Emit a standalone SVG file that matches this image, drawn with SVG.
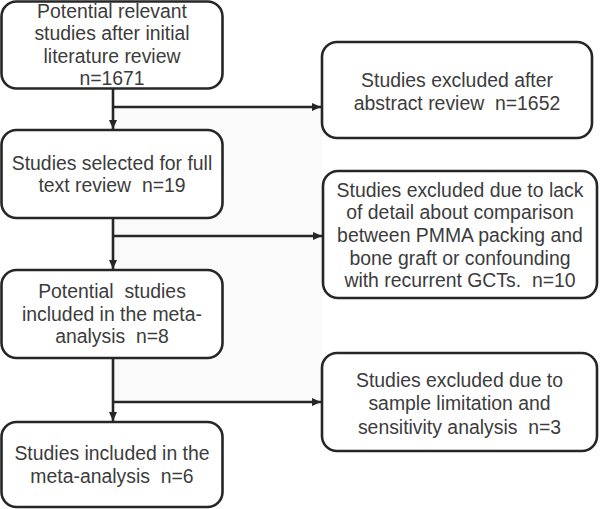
<svg xmlns="http://www.w3.org/2000/svg" width="600" height="509" viewBox="0 0 600 509">
<style>
.box{fill:#fff;stroke:#262626;stroke-width:2.6}
.t{font-family:"Liberation Sans",Arial,sans-serif;font-size:19.4px;fill:#3c3c3c;text-anchor:middle;white-space:pre}
.c{stroke:#262626;stroke-width:2.6;fill:none}
</style>
<defs>
<marker id="ah" markerUnits="userSpaceOnUse" markerWidth="10" markerHeight="10" refX="9" refY="5" orient="auto">
<path d="M0,1 L9,5 L0,9 Z" fill="#262626"/>
</marker>
</defs>
<rect width="600" height="509" fill="#fff"/>
<rect x="114" y="108" width="208" height="294" fill="#fafafa"/>
<g id="connectors">
<line class="c" x1="113" y1="88" x2="113" y2="129" marker-end="url(#ah)"/>
<line class="c" x1="113" y1="107" x2="321" y2="107" marker-end="url(#ah)"/>
<line class="c" x1="113" y1="218" x2="113" y2="269" marker-end="url(#ah)"/>
<line class="c" x1="113" y1="236" x2="322" y2="236" marker-end="url(#ah)"/>
<line class="c" x1="113" y1="358" x2="113" y2="421" marker-end="url(#ah)"/>
<line class="c" x1="113" y1="402" x2="321" y2="402" marker-end="url(#ah)"/>
</g>
<g id="n1">
<rect class="box" x="1.5" y="1.5" width="221" height="87" rx="15"/>
<text class="t" x="112" y="17.5">Potential relevant</text>
<text class="t" x="112" y="40">studies after initial</text>
<text class="t" x="112" y="62.5">literature review</text>
<text class="t" x="112" y="85">n=1671</text>
</g>
<g id="n2">
<rect class="box" x="322" y="42" width="270" height="96" rx="15"/>
<text class="t" x="457" y="87">Studies excluded after</text>
<text class="t" x="457" y="110" xml:space="preserve">abstract review  n=1652</text>
</g>
<g id="n3">
<rect class="box" x="1.5" y="130" width="221" height="88" rx="15"/>
<text class="t" x="112" y="170">Studies selected for full</text>
<text class="t" x="112" y="192" xml:space="preserve">text review  n=19</text>
</g>
<g id="n4">
<rect class="box" x="323" y="171" width="274" height="127" rx="15"/>
<text class="t" x="460" y="196.5">Studies excluded due to lack</text>
<text class="t" x="460" y="219">of detail about comparison</text>
<text class="t" x="460" y="241.5">between PMMA packing and</text>
<text class="t" x="460" y="264.5">bone graft or confounding</text>
<text class="t" x="460" y="287" xml:space="preserve">with recurrent GCTs.  n=10</text>
</g>
<g id="n5">
<rect class="box" x="1.5" y="270" width="221" height="88" rx="15"/>
<text class="t" x="112" y="298" xml:space="preserve">Potential  studies</text>
<text class="t" x="112" y="321">included in the meta-</text>
<text class="t" x="112" y="343" xml:space="preserve">analysis  n=8</text>
</g>
<g id="n6">
<rect class="box" x="1.5" y="422" width="221" height="85" rx="15"/>
<text class="t" x="112" y="460">Studies included in the</text>
<text class="t" x="112" y="483" xml:space="preserve">meta-analysis  n=6</text>
</g>
<g id="n7">
<rect class="box" x="322" y="353" width="275" height="98" rx="15"/>
<text class="t" x="459.5" y="387">Studies excluded due to</text>
<text class="t" x="459.5" y="410">sample limitation and</text>
<text class="t" x="459.5" y="434" xml:space="preserve">sensitivity analysis  n=3</text>
</g>
</svg>
